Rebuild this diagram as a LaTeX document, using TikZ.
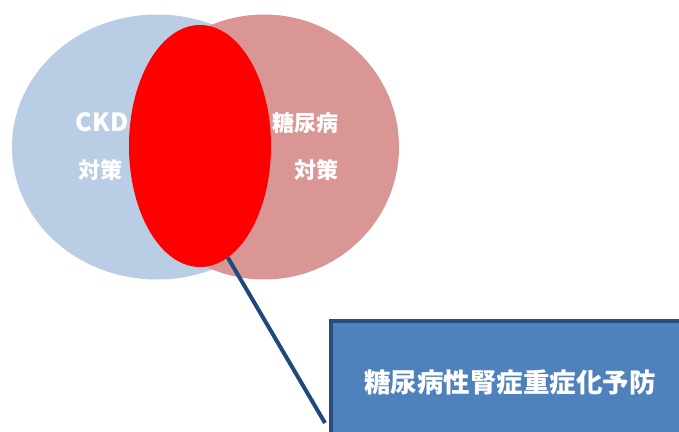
\documentclass[tikz,border=0pt]{standalone}
\usepackage{fontspec}
\setmainfont{Noto Sans CJK JP}
\usepackage{tikz}
\usetikzlibrary{shapes.geometric}

\definecolor{ckdblue}{RGB}{185,205,229}
\definecolor{dmpink}{RGB}{217,150,148}
\definecolor{linkblue}{RGB}{31,73,125}
\definecolor{boxblue}{RGB}{79,129,189}
\definecolor{boxedge}{RGB}{40,78,128}

\tikzset{
  circ/.style={ellipse, draw=none, inner sep=0pt},
  lbl/.style={text=white, font=\bfseries\fontsize{22}{24}\selectfont, inner sep=0pt}
}

\begin{document}
\begin{tikzpicture}[x=1pt, y=-1pt]
    \clip (0,0) rectangle (679,431);
    \useasboundingbox (0,0) rectangle (679,431);

    % Draw the two policy circles
    \node[circ, fill=ckdblue, minimum width=290pt, minimum height=265pt] (ckd) at (157,147) {};
    \node[circ, fill=dmpink, minimum width=270pt, minimum height=265pt] (dm) at (264,147) {};

    % Labels inside the circles
    \node[lbl, font=\bfseries\fontsize{25}{28}\selectfont] (ckdname) at (102,122) {CKD};
    \node[lbl] (ckdpol) at (100,170) {対策};
    \node[lbl] (dmname) at (305,123) {糖尿病};
    \node[lbl] (dmpol) at (316,170) {対策};

    % Overlap and the pointer to the target box
    \node[circ, fill=red, minimum width=142pt, minimum height=242pt] (focus) at (200,146) {};
    \coordinate (tip) at (325,423);
    \draw[linkblue, line width=4pt] (focus.-76) -- (tip);
    \node[draw=boxedge, line width=4pt, fill=boxblue, minimum width=358pt, minimum height=122pt,
          text=white, font=\bfseries\fontsize{26.5}{30}\selectfont] (goal) at (510,382) {糖尿病性腎症重症化予防};
\end{tikzpicture}
\end{document}
